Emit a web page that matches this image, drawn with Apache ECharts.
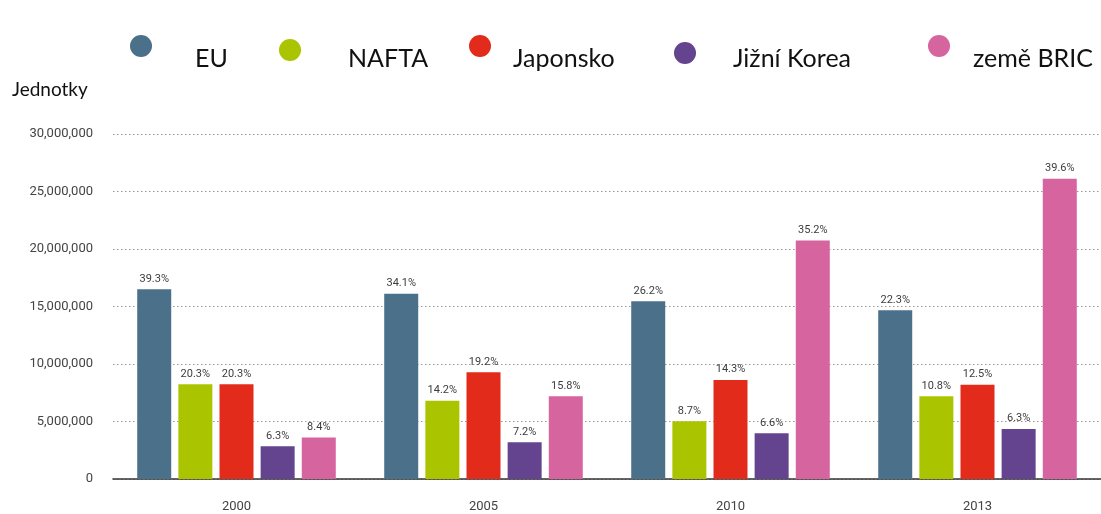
<!DOCTYPE html>
<html>
<head>
<meta charset="utf-8">
<script src="https://cdn.jsdelivr.net/npm/echarts@6/dist/echarts.min.js"></script>
<style>
html,body{margin:0;padding:0;background:#fff;}
#chart{width:1101px;height:514px;}
</style>
</head>
<body>
<div id="chart"></div>
<script>
const categories = ['2000', '2005', '2010', '2013'];
const seriesNames = ['EU', 'NAFTA', 'Japonsko', 'Jižní Korea', 'země BRIC'];
const euValues     = [16500000, 16100000, 15450000, 14670000];
const naftaValues  = [8230000, 6800000, 5020000, 7190000];
const japanValues  = [8230000, 9280000, 8600000, 8200000];
const koreaValues  = [2840000, 3190000, 3970000, 4350000];
const bricValues   = [3600000, 7190000, 20750000, 26100000];
const euPct    = ['39.3%', '34.1%', '26.2%', '22.3%'];
const naftaPct = ['20.3%', '14.2%', '8.7%', '10.8%'];
const japanPct = ['20.3%', '19.2%', '14.3%', '12.5%'];
const koreaPct = ['6.3%', '7.2%', '6.6%', '6.3%'];
const bricPct  = ['8.4%', '15.8%', '35.2%', '39.6%'];
const yTicks = [0, 5000000, 10000000, 15000000, 20000000, 25000000, 30000000];
const unitLabel = 'Jednotky';

const colors = ['#4b7089', '#abc400', '#e32b1c', '#64448e', '#d6659f'];
const allValues = [euValues, naftaValues, japanValues, koreaValues, bricValues];
const allPct = [euPct, naftaPct, japanPct, koreaPct, bricPct];

// legend marker placement [left, top] and legend text placement [left, top]
const markerPos = [[130, 35], [279, 39], [469, 35], [674, 42], [928, 35]];
const textPos = [[190, 46], [343, 46], [508, 46], [728, 46], [968, 46]];

const markerLegends = seriesNames.map((n, i) => ({
  data: [n],
  left: markerPos[i][0],
  top: markerPos[i][1],
  padding: 0,
  icon: 'circle',
  itemWidth: 22,
  itemHeight: 22,
  selectedMode: false,
  formatter: () => '',
  textStyle: {fontSize: 1}
}));
const textLegends = seriesNames.map((n, i) => ({
  data: [n],
  left: textPos[i][0],
  top: textPos[i][1],
  padding: 0,
  icon: 'circle',
  itemWidth: 0,
  itemHeight: 22,
  itemStyle: {opacity: 0},
  selectedMode: false,
  textStyle: {fontFamily: 'Lato', fontSize: 25, color: '#111'}
}));

const chart = echarts.init(document.getElementById('chart'));
chart.setOption({
  animation: false,
  backgroundColor: '#fff',
  color: colors,
  title: {
    text: unitLabel,
    left: 12, top: 80,
    padding: 0,
    textStyle: {fontFamily: 'Lato', fontSize: 19, fontWeight: 'normal', color: '#111'}
  },
  legend: markerLegends.concat(textLegends),
  grid: {left: 113, right: 0, top: 134, bottom: 35},
  xAxis: {
    type: 'category',
    data: categories,
    axisLine: {lineStyle: {color: '#333', width: 1.5}},
    axisTick: {alignWithLabel: true, length: 8, lineStyle: {color: '#333', width: 1.5}},
    axisLabel: {margin: 21, fontFamily: 'Roboto', fontSize: 13, color: '#444'}
  },
  yAxis: {
    type: 'value',
    min: yTicks[0],
    max: yTicks[yTicks.length - 1],
    interval: yTicks[1] - yTicks[0],
    axisLine: {show: false},
    axisTick: {show: false},
    axisLabel: {
      margin: 20, fontFamily: 'Roboto', fontSize: 13, color: '#444',
      formatter: v => v.toLocaleString('en-US')
    },
    splitLine: {lineStyle: {color: '#999', width: 1, type: [1.5, 2.5]}}
  },
  series: seriesNames.map((n, i) => ({
    name: n,
    type: 'bar',
    barWidth: 34,
    barGap: '21%',
    data: allValues[i],
    itemStyle: {color: colors[i]},
    label: {
      show: true,
      position: 'top',
      distance: 5,
      fontFamily: 'Roboto',
      fontSize: 11,
      color: '#3c3c3c',
      formatter: p => allPct[i][p.dataIndex]
    }
  }))
});
</script>
</body>
</html>
